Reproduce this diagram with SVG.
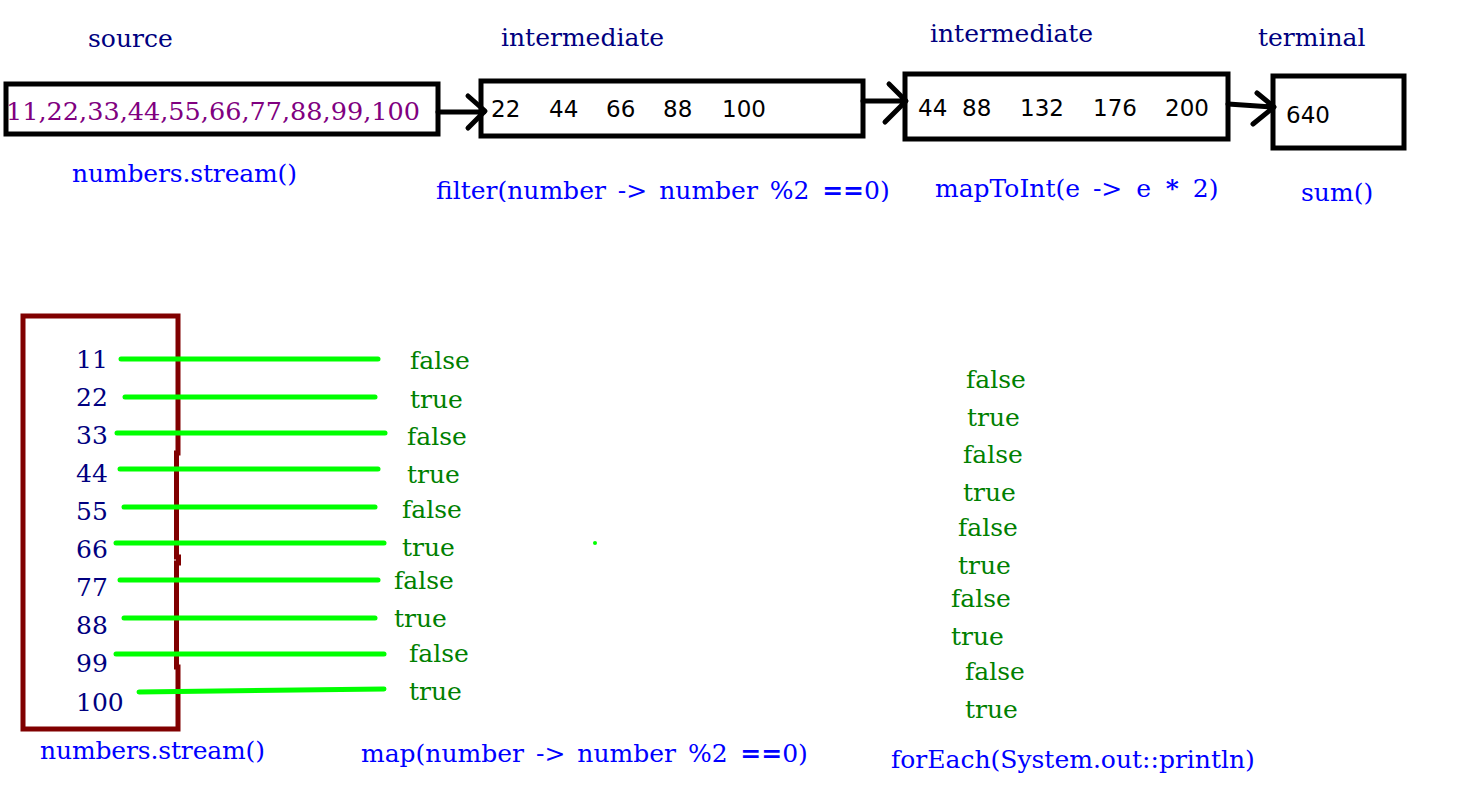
<svg xmlns="http://www.w3.org/2000/svg" width="1481" height="795" viewBox="0 0 1481 795">
<style>
.ser{font-family:"DejaVu Serif","Liberation Serif",serif;font-size:25px}
.sans{font-family:"DejaVu Sans","Liberation Sans",sans-serif;font-size:23px;fill:#000}
.head{fill:#000080}
.op{fill:#0000ff}
.pur{fill:#800080}
.num{fill:#000080}
.g{fill:#008000}
.b{font-weight:bold}
.box{fill:none;stroke:#000;stroke-width:5}
.con{fill:none;stroke:#000;stroke-width:5;stroke-linecap:round;stroke-linejoin:round}
.gl{fill:none;stroke:#00ff00;stroke-width:5;stroke-linecap:round}
</style>
<defs>
<clipPath id="clipTop"><rect x="0" y="0" width="1481" height="202"/></clipPath>
</defs>
<rect width="1481" height="795" fill="#fff"/>

<g id="labels-top">
<text class="ser head" x="88" y="47">source</text>
<text class="ser head" x="501" y="46">intermediate</text>
<text class="ser head" x="930" y="42">intermediate</text>
<text class="ser head" x="1258" y="46">terminal</text>
</g>

<g id="node-source">
<rect class="box" x="6" y="84" width="432" height="50"/>
<text class="ser pur" x="6" y="120" textLength="414" lengthAdjust="spacingAndGlyphs">11,22,33,44,55,66,77,88,99,100</text>
<text class="ser op" x="72" y="182" textLength="225">numbers.stream()</text>
</g>

<g id="node-filter">
<rect class="box" x="481" y="81" width="382" height="55"/>
<text class="sans" x="491" y="117">22</text>
<text class="sans" x="549" y="117">44</text>
<text class="sans" x="606" y="117">66</text>
<text class="sans" x="663" y="117">88</text>
<text class="sans" x="722" y="117">100</text>
<text class="ser op" x="436" y="199" clip-path="url(#clipTop)">filter(number <tspan dx="4">-&gt;</tspan><tspan dx="4"> number</tspan><tspan dx="4"> %2</tspan><tspan dx="4" class="b"> ==</tspan>0)</text>
</g>

<g id="node-map">
<rect class="box" x="905" y="74" width="323" height="65"/>
<text class="sans" x="918" y="116">44</text>
<text class="sans" x="962" y="116">88</text>
<text class="sans" x="1020" y="116">132</text>
<text class="sans" x="1093" y="116">176</text>
<text class="sans" x="1165" y="116">200</text>
<text class="ser op" x="935" y="197" clip-path="url(#clipTop)">mapToInt(e <tspan dx="5">-&gt;</tspan><tspan dx="6"> e</tspan><tspan dx="6" class="b"> *</tspan><tspan dx="6"> 2)</tspan></text>
</g>

<g id="node-sum">
<rect class="box" x="1273" y="76" width="131" height="72"/>
<text class="sans" x="1286" y="123">640</text>
<text class="ser op" x="1301" y="201">sum()</text>
</g>

<g id="connectors">
<path class="con" d="M438 112 L484 112 M468 96 L485 111 L468 128"/>
<path class="con" d="M863 101 L905 101 M889 84 L906 101 L885 122"/>
<path class="con" d="M1228 104 L1272 107 M1257 93 L1274 107 L1253 124"/>
</g>

<g id="node-stream-box">
<path d="M23 316 L178 316 L178 453 L176.5 453 L176.5 557 L178.5 557 L178.5 563 L176.5 563 L176.5 667 L178 667 L178 729 L23 729 Z" fill="none" stroke="#800000" stroke-width="5"/>
<text class="ser num" x="76" y="368">11</text>
<text class="ser num" x="76" y="406">22</text>
<text class="ser num" x="76" y="444">33</text>
<text class="ser num" x="76" y="482">44</text>
<text class="ser num" x="76" y="520">55</text>
<text class="ser num" x="76" y="558">66</text>
<text class="ser num" x="76" y="596">77</text>
<text class="ser num" x="76" y="634">88</text>
<text class="ser num" x="76" y="672">99</text>
<text class="ser num" x="76" y="711">100</text>
<text class="ser op" x="40" y="759" textLength="225">numbers.stream()</text>
</g>

<g id="map-lines">
<path class="gl" d="M121 359 L378 359"/>
<path class="gl" d="M125 397 L375 397"/>
<path class="gl" d="M117 433 L385 433"/>
<path class="gl" d="M120 469 L378 469"/>
<path class="gl" d="M124 507 L375 507"/>
<path class="gl" d="M116 543 L384 543"/>
<path class="gl" d="M120 580 L378 580"/>
<path class="gl" d="M124 618 L375 618"/>
<path class="gl" d="M116 654 L384 654"/>
<path class="gl" d="M139 692 L384 689"/>
<circle cx="595" cy="543" r="2" fill="#00ff00"/>
</g>

<g id="map-results">
<text class="ser g" x="410" y="369">false</text>
<text class="ser g" x="410" y="408">true</text>
<text class="ser g" x="407" y="445">false</text>
<text class="ser g" x="407" y="483">true</text>
<text class="ser g" x="402" y="518">false</text>
<text class="ser g" x="402" y="556">true</text>
<text class="ser g" x="394" y="589">false</text>
<text class="ser g" x="394" y="627">true</text>
<text class="ser g" x="409" y="662">false</text>
<text class="ser g" x="409" y="700">true</text>
<text class="ser op" x="361" y="762">map(number <tspan dx="4">-&gt;</tspan><tspan dx="4"> number</tspan><tspan dx="4"> %2</tspan><tspan dx="4" class="b"> ==</tspan>0)</text>
</g>

<g id="foreach-results">
<text class="ser g" x="966" y="388">false</text>
<text class="ser g" x="967" y="426">true</text>
<text class="ser g" x="963" y="463">false</text>
<text class="ser g" x="963" y="501">true</text>
<text class="ser g" x="958" y="536">false</text>
<text class="ser g" x="958" y="574">true</text>
<text class="ser g" x="951" y="607">false</text>
<text class="ser g" x="951" y="645">true</text>
<text class="ser g" x="965" y="680">false</text>
<text class="ser g" x="965" y="718">true</text>
<text class="ser op" x="891" y="768">forEach(System.out::println)</text>
</g>
</svg>
